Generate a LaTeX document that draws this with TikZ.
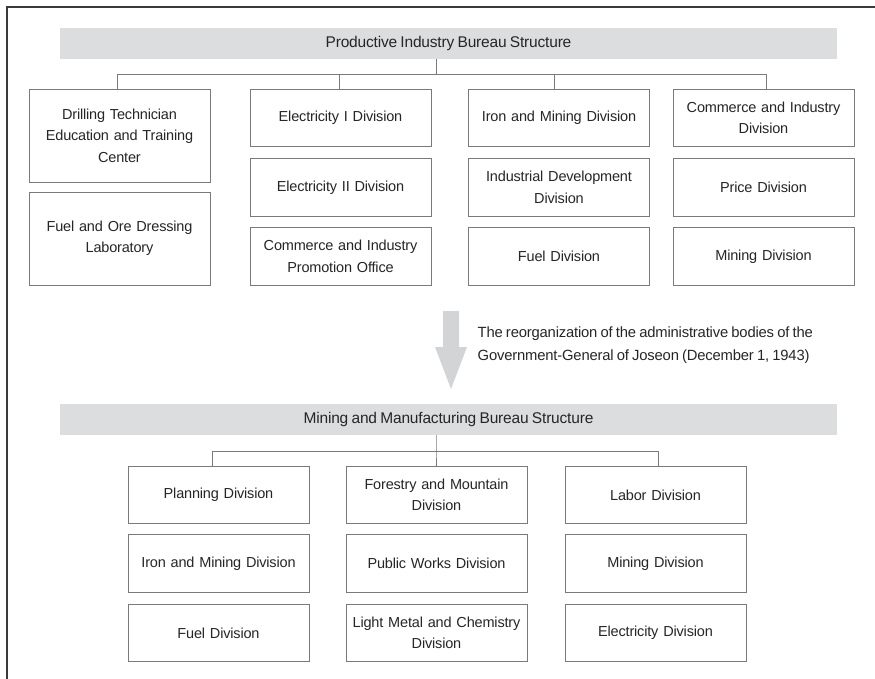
\documentclass[tikz,border=0pt]{standalone}
\usepackage{fontspec}
\setmainfont{Liberation Sans}[LetterSpace=-1.2,WordSpace=0.8]
\definecolor{txt}{HTML}{262626}
\definecolor{bord}{HTML}{7A7A7A}
\definecolor{barfill}{HTML}{DCDDDF}
\definecolor{arrfill}{HTML}{D3D4D6}
\definecolor{framec}{HTML}{3A3A3A}
\begin{document}
\begin{tikzpicture}[x=1pt,y=-1pt,
  every node/.style={font=\fontsize{14.5}{21.5}\selectfont, text=txt},
  bar/.style={fill=barfill, minimum width=777pt, minimum height=31pt, inner sep=0pt, font=\fontsize{15.5}{21.5}\selectfont},
  divbox/.style={draw=bord, line width=0.9pt, fill=white, minimum width=181pt, minimum height=57.5pt, inner sep=0pt, align=center, text width=178pt},
  tallbox/.style={divbox, minimum height=93pt},
  conn/.style={draw=bord, line width=0.8pt},
  framel/.style={draw=framec, line width=1.3pt}
]
\useasboundingbox (0,0) rectangle (875,679);
\draw[framel] (875,7) -- (7,7) -- (7,679);

% ---------- top structure
\node[bar] (t1) at (448.5,43.5) {Productive Industry Bureau Structure};

\node[tallbox] (a1) at (119.5,135.5) {Drilling Technician\\Education and Training\\Center};
\node[tallbox] (a2) at (119.5,238.5) {Fuel and Ore Dressing\\Laboratory};

\node[divbox] (b1) at (340.5,118) {Electricity I Division};
\node[divbox] (b2) at (340.5,187.5) {Electricity II Division};
\node[divbox] (b3) at (340.5,256.5) {Commerce and Industry\\Promotion Office};

\node[divbox] (c1) at (559,118) {Iron and Mining Division};
\node[divbox] (c2) at (559,187.5) {Industrial Development\\Division};
\node[divbox] (c3) at (559,256.5) {Fuel Division};

\node[divbox] (d1) at (763.5,118) {Commerce and Industry\\Division};
\node[divbox] (d2) at (763.5,187.5) {Price Division};
\node[divbox] (d3) at (763.5,256.5) {Mining Division};

\coordinate (bus1) at (436,74);
\draw[conn] ([xshift=-12.5pt]t1.south) -- (bus1);
\draw[conn] ([xshift=-2.5pt]a1.north) |- ([xshift=2.5pt]d1.north |- bus1) -- ([xshift=2.5pt]d1.north);
\draw[conn] ([xshift=-1.5pt]b1.north) -- ([xshift=-1.5pt]b1.north |- bus1);
\draw[conn] ([xshift=-5pt]c1.north) -- ([xshift=-5pt]c1.north |- bus1);

% ---------- transition arrow
\fill[arrfill] (443,311) -- (459,311) -- (459,347) -- (467,347) -- (451,389) -- (435,347) -- (443,347) -- cycle;
\node[anchor=west, align=left, inner sep=0pt, font=\fontsize{14.8}{23}\selectfont] (note) at (477.5,345.5)
  {The reorganization of the administrative bodies of the\\Government-General of Joseon (December 1, 1943)};

% ---------- bottom structure
\node[bar] (t2) at (448.5,419.5) {Mining and Manufacturing Bureau Structure};

\node[divbox] (e1) at (218.5,495) {Planning Division};
\node[divbox] (e2) at (218.5,563.5) {Iron and Mining Division};
\node[divbox] (e3) at (218.5,633) {Fuel Division};

\node[divbox] (f1) at (436.5,495) {Forestry and Mountain\\Division};
\node[divbox] (f2) at (436.5,563.5) {Public Works Division};
\node[divbox] (f3) at (436.5,633) {Light Metal and Chemistry\\Division};

\node[divbox] (g1) at (655.5,495) {Labor Division};
\node[divbox] (g2) at (655.5,563.5) {Mining Division};
\node[divbox] (g3) at (655.5,633) {Electricity Division};

\coordinate (bus2) at (436,451);
\draw[conn] ([xshift=-12.5pt]t2.south) -- (bus2) -- ([xshift=-0.5pt]f1.north);
\draw[conn] ([xshift=-6.5pt]e1.north) |- ([xshift=2.5pt]g1.north |- bus2) -- ([xshift=2.5pt]g1.north);
\end{tikzpicture}
\end{document}
